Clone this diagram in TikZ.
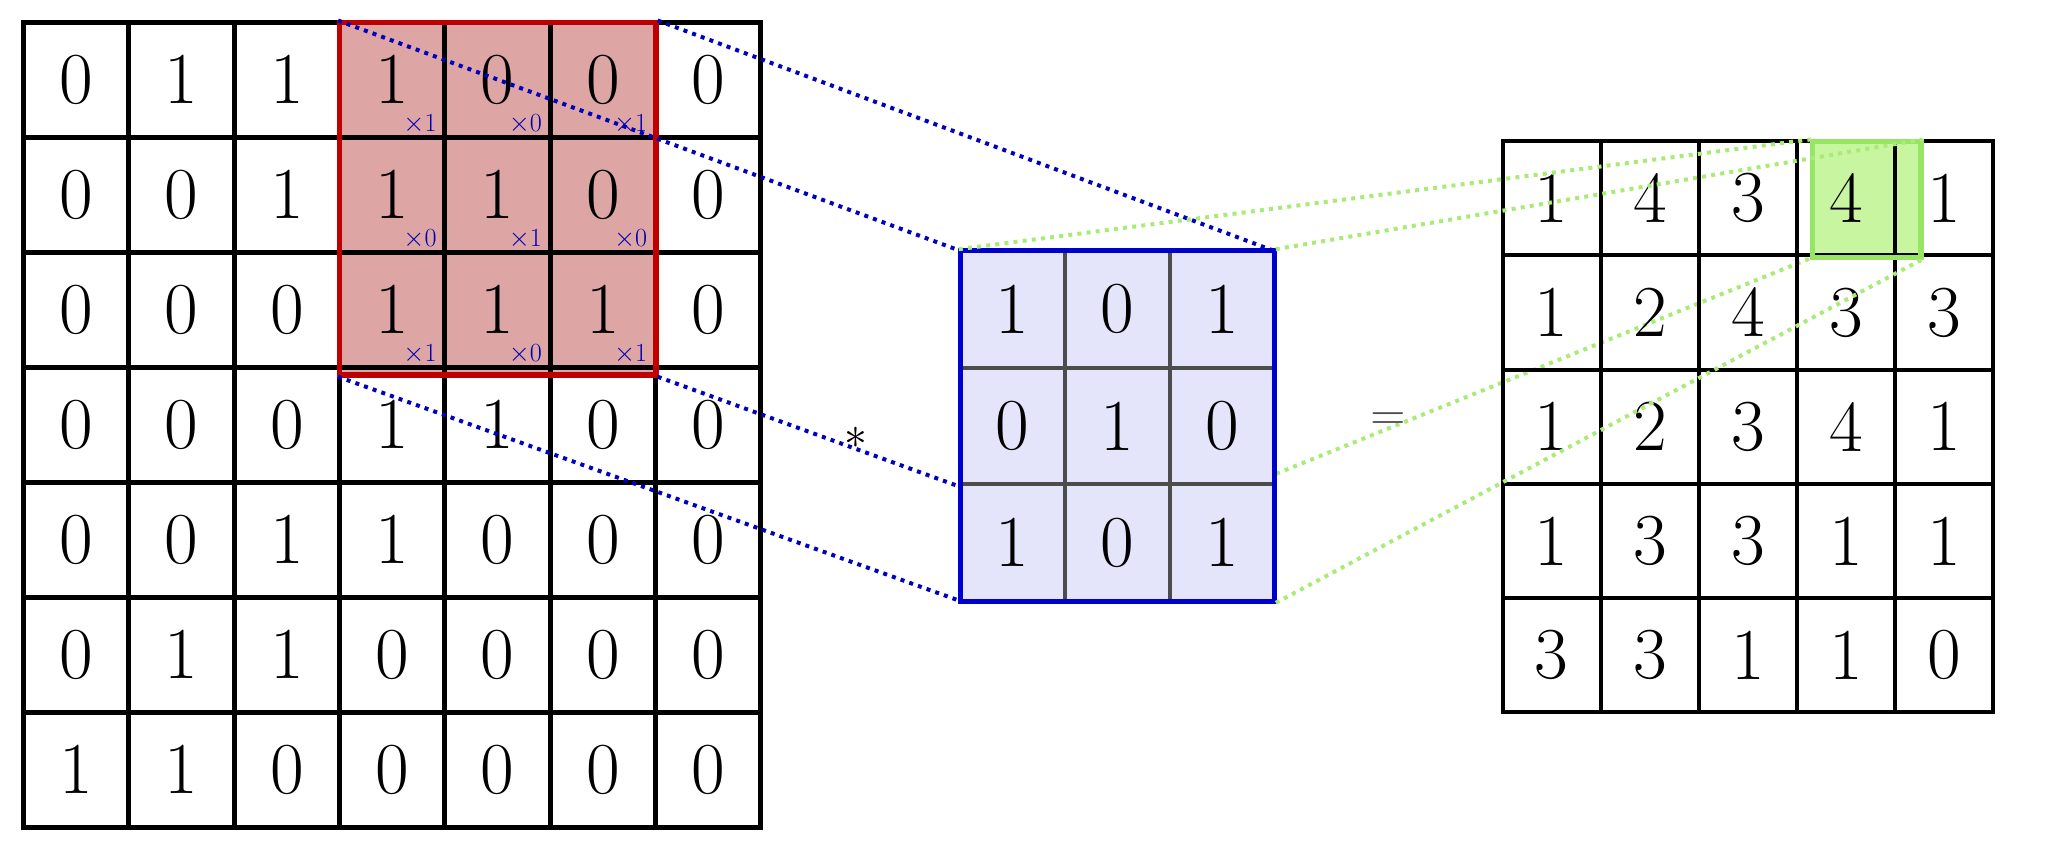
\documentclass[tikz,border=0pt]{standalone}
\begin{document}
\begin{tikzpicture}[x=0.6534pt,y=-0.6534pt,every node/.append style={scale=0.6534},
  num/.style={font=\fontsize{56}{56}\selectfont},
  lc/.style={draw=black,line width=2.4pt,minimum width=80.6pt,minimum height=88pt,inner sep=0pt,num},
  kc/.style={draw=black!70,line width=2pt,minimum width=80pt,minimum height=89.3pt,inner sep=0pt,num},
  oc/.style={draw=black,line width=2pt,minimum width=75pt,minimum height=87.4pt,inner sep=0pt,num},
  mult/.style={text=blue!70!black,font=\fontsize{20}{20}\selectfont,inner sep=0pt},
  bdot/.style={draw=blue!75!black,line width=2pt,dash pattern=on 2pt off 2.6pt},
  gdot/.style={draw={rgb,255:red,170;green,235;blue,120},line width=2pt,dash pattern=on 2pt off 2.6pt}]
\useasboundingbox (0,0) rectangle (1568,650.4);
\definecolor{redfill}{RGB}{222,165,165}
\definecolor{kfill}{RGB}{228,228,250}
\definecolor{gfill}{RGB}{200,245,160}
\definecolor{gline}{RGB}{150,230,100}
% red background
\node[fill=redfill,minimum width=242pt,minimum height=270pt,inner sep=0pt] (redbg) at (381,152) {};
% left grid
\foreach \r/\row in {0/{0,1,1,1,0,0,0},1/{0,0,1,1,1,0,0},2/{0,0,0,1,1,1,0},3/{0,0,0,1,1,0,0},4/{0,0,1,1,0,0,0},5/{0,1,1,0,0,0,0},6/{1,1,0,0,0,0,0}}{
  \foreach \v [count=\c from 0] in \row {
    \node[lc] (L\r\c) at ({18+80.6*(\c+0.5)},{17+88*(\r+0.5)}) {\v};
  }
}
\node[draw=red!75!black,line width=2.6pt,minimum width=242pt,minimum height=270pt,inner sep=0pt] (red) at (381,152) {};
\foreach \r/\row in {0/{1,0,1},1/{0,1,0},2/{1,0,1}}{
  \foreach \v [count=\c from 3] in \row {
    \node[mult] (m\r\c) at ({18+80.6*(\c+1)-19},{17+88*(\r+1)-10}) {$\times$\v};
  }
}
% kernel coordinates
\coordinate (knw) at (735,192); \coordinate (kne) at (975,192);
\coordinate (ksw) at (735,460); \coordinate (kse) at (975,460);
\draw[bdot] (red.north west) -- (knw);
\draw[bdot] (red.north east) -- (kne);
\draw[bdot] (red.south west) -- (ksw);
\draw[bdot] (red.south east) -- (kse);
\coordinate (gsw) at (1387,197);
\draw[gdot] (ksw) -- (gsw);
% kernel
\node[fill=kfill,minimum width=240pt,minimum height=268pt,inner sep=0pt] (kbg) at (855,326) {};
\foreach \r/\row in {0/{1,0,1},1/{0,1,0},2/{1,0,1}}{
  \foreach \v [count=\c from 0] in \row {
    \node[kc] (K\r\c) at ({735+80*(\c+0.5)},{192+89.3*(\r+0.5)}) {\v};
  }
}
\node[draw=blue!80!black,line width=2.6pt,minimum width=240pt,minimum height=268pt,inner sep=0pt] (kern) at (855,326) {};
% output
\node[fill=gfill,minimum width=83pt,minimum height=89pt,inner sep=0pt] (gbg) at (1428.5,152.5) {};
\foreach \r/\row in {0/{1,4,3,4,1},1/{1,2,4,3,3},2/{1,2,3,4,1},3/{1,3,3,1,1},4/{3,3,1,1,0}}{
  \foreach \v [count=\c from 0] in \row {
    \node[oc] (O\r\c) at ({1150+75*(\c+0.5)},{108+87.4*(\r+0.5)}) {\v};
  }
}
\node[draw=gline,line width=2.6pt,minimum width=83pt,minimum height=89pt,inner sep=0pt] (green) at (1428.5,152.5) {};
\draw[gdot] (kern.north west) -- (green.north west);
\draw[gdot] (kern.north east) -- (green.north east);
\draw[gdot] (kern.south east) -- (green.south east);
\node (star) at (655,335) {\scalebox{3.5}{$*$}};
\node[text=black!70] (eq) at (1062,322) {\scalebox{3.5}{$=$}};
\end{tikzpicture}
\end{document}
